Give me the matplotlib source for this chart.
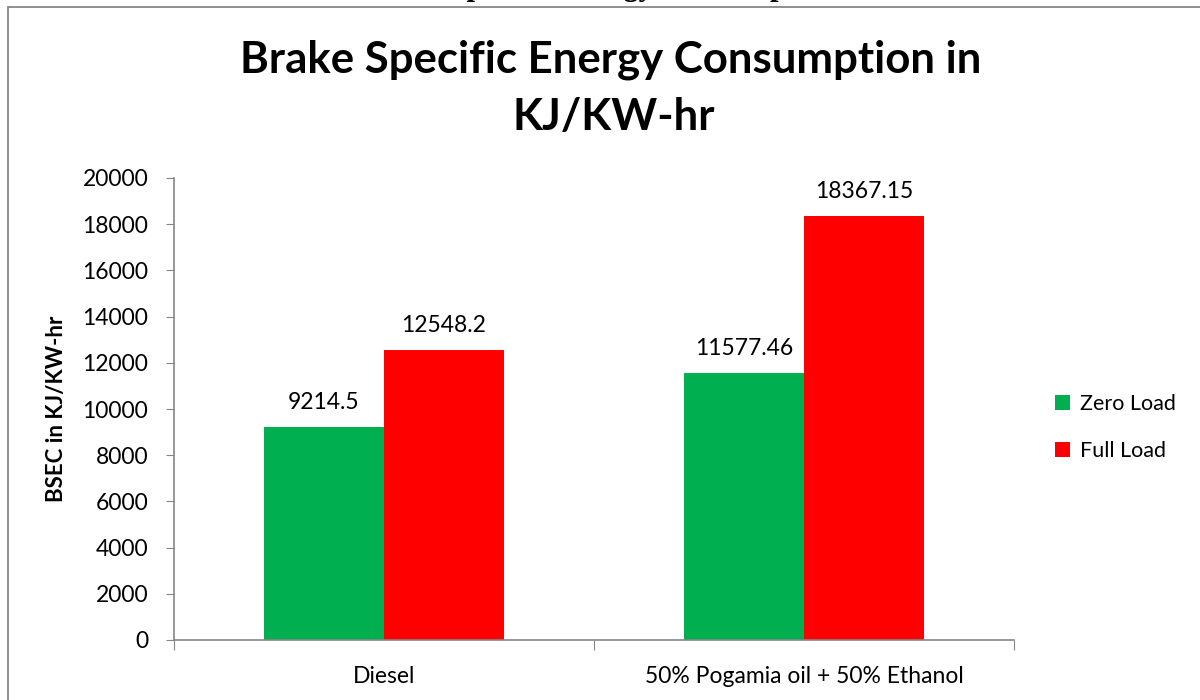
import matplotlib.pyplot as plt
from matplotlib.patches import Rectangle
import numpy as np

categories = ["Diesel", "50% Pogamia oil + 50% Ethanol"]
zero_load = [9214.5, 11577.46]
full_load = [12548.2, 18367.15]
zero_labels = ["9214.5", "11577.46"]
full_labels = ["12548.2", "18367.15"]
yticks = [0, 2000, 4000, 6000, 8000, 10000, 12000, 14000, 16000, 18000, 20000]

plt.rcParams['font.family'] = ['Lato', 'DejaVu Sans']
fs = 16.5

fig = plt.figure(figsize=(12, 7), dpi=100)
ax = fig.add_axes([174 / 1200, 60 / 700, 840 / 1200, 462 / 700])

x = np.arange(len(categories))
w = 0.2857
ax.bar(x - w / 2, zero_load, w, color='#00b050', label='Zero Load')
ax.bar(x + w / 2, full_load, w, color='#ff0000', label='Full Load')

# value labels above bars
for xi, v, s in zip(x - w / 2, zero_load, zero_labels):
    ax.text(xi, v + 780, s, ha='center', va='baseline', fontsize=fs)
for xi, v, s in zip(x + w / 2, full_load, full_labels):
    ax.text(xi, v + 780, s, ha='center', va='baseline', fontsize=fs)

ax.set_xlim(-0.5, 1.5)
ax.set_ylim(0, 20000)
ax.set_yticks(yticks)
ax.tick_params(axis='y', labelsize=fs, length=5.5, color='#868686', pad=13)

# category labels, ticks at boundaries
ax.set_xticks([-0.5, 0.5, 1.5])
ax.set_xticklabels([])
ax.tick_params(axis='x', length=7, color='#868686')
for xi, c in zip(x, categories):
    ax.text(xi, -1860, c, ha='center', va='baseline', fontsize=fs)

for s in ['top', 'right']:
    ax.spines[s].set_visible(False)
for s in ['left', 'bottom']:
    ax.spines[s].set_color('#868686')
    ax.spines[s].set_linewidth(1.2)

ax.set_ylabel('BSEC in KJ/KW-hr', fontsize=16, fontweight='bold', labelpad=11)

fig.text(611 / 1200, 1 - 73 / 700, 'Brake Specific Energy Consumption in',
         ha='center', va='baseline', fontsize=31.5, fontweight='bold')
fig.text(614 / 1200, 1 - 130 / 700, 'KJ/KW-hr',
         ha='center', va='baseline', fontsize=31.5, fontweight='bold')

ax.legend(loc='center left', bbox_to_anchor=(1044 / 1200, 1 - 427.5 / 700),
          bbox_transform=fig.transFigure, frameon=False, borderpad=0,
          fontsize=15.5, handlelength=0.72, handleheight=0.72, labelspacing=1.25,
          handletextpad=0.45)

# surrounding chart border
fig.patches.append(Rectangle((8 / 1200, -0.1), 1.2, 1.1 - 7 / 700, transform=fig.transFigure,
                             fill=False, edgecolor='#868686', linewidth=1.3))

# cut-off document text above the chart
fig.text(0.5, 1 + 12 / 700, 'Brake Specific Energy Consumption', ha='center', va='center',
         fontsize=22, fontweight='bold', family=['Liberation Serif', 'DejaVu Serif'])

fig.savefig('out.png', dpi=100)
